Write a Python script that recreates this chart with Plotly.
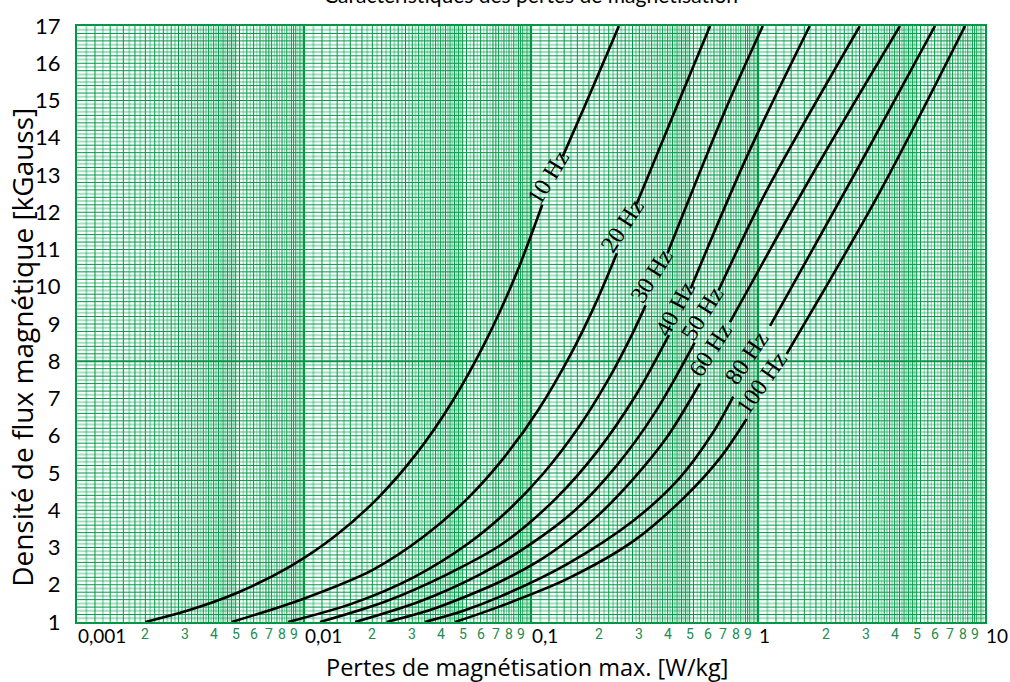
import numpy as np
import plotly.graph_objects as go

# Magnetisation loss curves: flux density [kGauss] against max. loss [W/kg].
# A None marks where the inline frequency label interrupts a curve.
freq_labels = ["10 Hz", "20 Hz", "30 Hz", "40 Hz", "50 Hz", "60 Hz", "80 Hz", "100 Hz"]

loss_10hz = [0.0020, 0.00305, 0.00515, 0.00874, 0.01367, 0.02093, 0.0311, 0.0448,
             0.0627, 0.0855, 0.1121, None, 0.138, 0.172, 0.244]
flux_10hz = [1.0, 1.3, 1.8, 2.5, 3.3, 4.3, 5.5, 6.9,
             8.5, 10.3, 12.2, None, 13.5, 14.83, 17.0]

loss_20hz = [0.0048, 0.0099, 0.0201, 0.0338, 0.0522, 0.0757, 0.1078, 0.150,
             0.1909, 0.239, None, 0.292, 0.438, 0.615]
flux_20hz = [1.0, 1.62, 2.4, 3.3, 4.3, 5.4, 6.7, 8.2,
             9.5, 10.9, None, 12.22, 14.83, 17.0]

loss_30hz = [0.0085, 0.01639, 0.0304, 0.0527, 0.0794, 0.1138, 0.161, 0.2186,
             0.2792, 0.3198, None, 0.3994, 0.728, 1.05]
flux_30hz = [1.0, 1.5, 2.2, 3.1, 4.0, 5.0, 6.2, 7.5,
             8.73, 9.5, None, 10.9, 14.83, 17.0]

loss_40hz = [0.01176, 0.02284, 0.04274, 0.0749, 0.1279, 0.197, 0.2904, 0.405,
             None, 0.505, 0.894, 1.69]
flux_40hz = [1.0, 1.55, 2.28, 3.1, 4.3, 5.6, 7.1, 8.7,
             None, 9.95, 13.5, 17.0]

loss_50hz = [0.0168, 0.0323, 0.0597, 0.0984, 0.1563, 0.2385, 0.35, 0.526,
             None, 0.67, 1.074, 2.81]
flux_50hz = [1.0, 1.55, 2.28, 3.07, 4.0, 5.2, 6.6, 8.5,
             None, 9.9, 12.5, 17.0]

loss_60hz = [0.0231, 0.0359, 0.0504, 0.073, 0.1095, 0.1436, 0.2014, 0.2823,
             0.396, 0.555, None, 0.7526, 1.73, 4.22]
flux_60hz = [1.0, 1.32, 1.66, 2.08, 2.66, 3.16, 3.91, 4.84,
             5.95, 7.41, None, 9.05, 13.0, 17.0]

loss_80hz = [0.0341, 0.0504, 0.073, 0.1436, 0.2823, 0.449, 0.633, 0.778,
             None, 1.13, 2.65, 6.02]
flux_80hz = [1.0, 1.3, 1.68, 2.55, 3.72, 4.85, 6.08, 7.05,
             None, 8.95, 13.0, 17.0]

loss_100hz = [0.0463, 0.073, 0.1436, 0.2823, 0.4688, 0.680, 0.891,
              None, 1.338, 3.41, 8.17]
flux_100hz = [1.0, 1.42, 2.15, 3.17, 4.32, 5.4, 6.45,
              None, 8.2, 12.5, 17.0]

loss_series = [loss_10hz, loss_20hz, loss_30hz, loss_40hz,
               loss_50hz, loss_60hz, loss_80hz, loss_100hz]
flux_series = [flux_10hz, flux_20hz, flux_30hz, flux_40hz,
               flux_50hz, flux_60hz, flux_80hz, flux_100hz]

# axis ticks
decades = [0.001, 0.01, 0.1, 1, 10]
decade_labels = ["0,001", "0,01", "0,1", "1", "10"]
minor_digits = [2, 3, 4, 5, 6, 7, 8, 9]
flux_ticks = list(range(1, 18))

# styling
DARK = "rgb(0,152,68)"
LIGHT = "rgba(0,165,85,0.36)"
THIN_LIGHT = "rgba(0,160,80,0.45)"
LABEL_ANGLES = [-59, -57, -58, -62, -58, -57, -56, -55]
X_MIN, X_MAX = 0.001, 10
Y_MIN, Y_MAX = 1, 17

fig = go.Figure()


def add_lines(xs_list, ys_list, color, width):
    xs, ys = [], []
    for xv, yv in zip(xs_list, ys_list):
        xs += list(xv) + [None]
        ys += list(yv) + [None]
    fig.add_trace(go.Scatter(x=xs, y=ys, mode="lines", hoverinfo="skip",
                             line=dict(color=color, width=width)))


# log-paper grid: vertical rulings
v_dark, v_light, v_thin, v_major = [], [], [], []
for d in decades[:-1]:
    if d != X_MIN:
        v_major.append(d)
    for k in range(11, 50):
        m = k / 10
        if k % 2 == 0:
            v_dark.append(m * d)
        else:
            v_light.append(m * d)
    for k in range(50, 100, 2):
        m = k / 10
        if k % 10 == 0 or k % 4 == 0:
            v_dark.append(m * d)
        else:
            v_thin.append(m * d)

# horizontal rulings every 0.1 kGauss
h_dark, h_light, h_major = [], [], [8.0]
for k in range(11, 170):
    if k == 80:
        continue
    (h_dark if k % 2 == 0 else h_light).append(k / 10)

add_lines([[v, v] for v in v_light], [[Y_MIN, Y_MAX]] * len(v_light), LIGHT, 2)
add_lines([[X_MIN, X_MAX]] * len(h_light), [[h, h] for h in h_light], LIGHT, 2)
add_lines([[v, v] for v in v_thin], [[Y_MIN, Y_MAX]] * len(v_thin), THIN_LIGHT, 1)
add_lines([[v, v] for v in v_dark], [[Y_MIN, Y_MAX]] * len(v_dark), DARK, 1)
add_lines([[X_MIN, X_MAX]] * len(h_dark), [[h, h] for h in h_dark], DARK, 1)
add_lines([[v, v] for v in v_major] + [[X_MIN, X_MAX]] * len(h_major),
          [[Y_MIN, Y_MAX]] * len(v_major) + [[h, h] for h in h_major], DARK, 2.2)

# loss curves
for xs, ys in zip(loss_series, flux_series):
    fig.add_trace(go.Scatter(x=xs, y=ys, mode="lines", hoverinfo="skip",
                             connectgaps=False,
                             line=dict(color="black", width=2.6, shape="spline",
                                       smoothing=0.9)))

annotations = []

# inline frequency labels, set in the gap of each curve
for label, xs, ys, ang in zip(freq_labels, loss_series, flux_series, LABEL_ANGLES):
    i = xs.index(None)
    lx = 0.5 * (np.log10(xs[i - 1]) + np.log10(xs[i + 1]))
    ly = 0.5 * (ys[i - 1] + ys[i + 1])
    annotations.append(dict(x=lx, y=ly, xref="x", yref="y", text=label,
                            showarrow=False, textangle=ang, xshift=-5, yshift=3,
                            font=dict(family="Liberation Serif, serif", size=24,
                                      color="black")))

# x tick labels: decades in black, intermediate digits in green
for d, txt in zip(decades, decade_labels):
    annotations.append(dict(x=np.log10(d), y=0, xref="x", yref="paper", text=txt,
                            showarrow=False, xanchor="left", yanchor="middle",
                            xshift=-1, yshift=-13,
                            font=dict(family="Lato, sans-serif", size=19, color="black")))
for d in decades[:-1]:
    for m in minor_digits:
        annotations.append(dict(x=np.log10(m * d), y=0, xref="x", yref="paper",
                                text=str(m), showarrow=False, xanchor="center",
                                yanchor="middle", yshift=-12,
                                font=dict(family="Liberation Sans Narrow, Roboto, sans-serif",
                                          size=14, color="rgb(34,139,80)")))

# titles
annotations.append(dict(x=0.5, y=1, xref="paper", yref="paper",
                        text="Caractéristiques des pertes de magnétisation",
                        showarrow=False, xanchor="center", yanchor="bottom", yshift=17,
                        font=dict(family="Lato, sans-serif", size=21, color="black")))
annotations.append(dict(x=0.496, y=0, xref="paper", yref="paper",
                        text="Pertes de magnétisation max. [W/kg]",
                        showarrow=False, xanchor="center", yanchor="middle", yshift=-45,
                        font=dict(family="Open Sans, sans-serif", size=23.5, color="black")))
annotations.append(dict(x=0, y=0.46, xref="paper", yref="paper",
                        text="Densité de flux magnétique [kGauss]",
                        showarrow=False, textangle=-90, xanchor="center",
                        yanchor="middle", xshift=-55,
                        font=dict(family="Open Sans, sans-serif", size=28, color="black")))

fig.update_layout(
    width=1010, height=682,
    margin=dict(l=77, r=25, t=18, b=60),
    paper_bgcolor="white", plot_bgcolor="white",
    showlegend=False,
    annotations=annotations,
    xaxis=dict(type="log", range=[np.log10(X_MIN), np.log10(X_MAX)],
               showgrid=False, zeroline=False, showticklabels=False, ticks="",
               showline=True, mirror=True, linecolor=DARK, linewidth=2),
    yaxis=dict(range=[Y_MIN, Y_MAX], showgrid=False, zeroline=False,
               tickmode="array", tickvals=flux_ticks, ticks="",
               ticklabelstandoff=10,
               tickfont=dict(family="Lato, sans-serif", size=22, color="black"),
               showline=True, mirror=True, linecolor=DARK, linewidth=2),
)

fig.write_html("out.html")
